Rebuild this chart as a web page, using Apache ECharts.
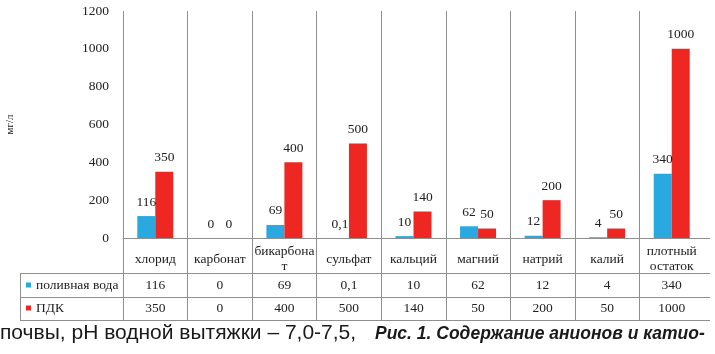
<!DOCTYPE html>
<html>
<head>
<meta charset="utf-8">
<script src="https://cdn.jsdelivr.net/npm/echarts@6/dist/echarts.min.js"></script>
<style>
html,body{margin:0;padding:0;background:#fff;}
#chart{width:715px;height:354px;}
</style>
</head>
<body>
<div id="chart"></div>
<script>
const categories = ['хлорид', 'карбонат', 'бикарбона\nт', 'сульфат', 'кальций', 'магний', 'натрий', 'калий', 'плотный\nостаток'];
const seriesNames = ['поливная вода', 'ПДК'];
const waterValues = [116, 0, 69, 0.1, 10, 62, 12, 4, 340];
const pdkValues = [350, 0, 400, 500, 140, 50, 200, 50, 1000];
const yMin = 0, yMax = 1200, yStep = 200;
const yName = 'мг/л';
const captionLeft = 'почвы, pH водной вытяжки – 7,0-7,5,';
const captionRight = 'Рис. 1. Содержание анионов и катио-';

const fmt = v => String(v).replace('.', ',');
const SERIF = '"Liberation Serif", "DejaVu Serif", serif';
const SANS = '"Liberation Sans", Arial, sans-serif';
const TXT = '#222';
const LINE = '#8f8f8f';
const FS = 13.5;

const chart = echarts.init(document.getElementById('chart'), null, {renderer: 'canvas'});

const hLine = (x1, y, x2) => ({type: 'line', z: 100, silent: true,
  shape: {x1: x1, y1: y + 0.5, x2: x2, y2: y + 0.5}, style: {stroke: LINE, lineWidth: 1}});

const option = {
  animation: false,
  backgroundColor: '#fff',
  textStyle: {fontFamily: SERIF},
  color: ['#29a9e0', '#ee2722'],
  legend: {
    data: seriesNames,
    orient: 'vertical',
    left: 26, top: 277, padding: 0,
    itemWidth: 5, itemHeight: 5, itemGap: 7,
    icon: 'rect',
    textStyle: {fontFamily: SERIF, fontSize: FS, color: TXT, lineHeight: 16},
    selectedMode: false
  },
  grid: [
    {left: 123, right: 11, top: 11, bottom: 116, outerBoundsMode: 'none', containLabel: false},
    {left: 123, right: 11, top: 238, bottom: 34, outerBoundsMode: 'none', containLabel: false}
  ],
  xAxis: [
    {
      type: 'category', gridIndex: 0, position: 'bottom', data: categories,
      axisLine: {show: true, lineStyle: {color: LINE}},
      axisTick: {show: false},
      axisLabel: {interval: 0, margin: 21, verticalAlign: 'middle', fontFamily: SERIF, fontSize: FS, lineHeight: 15, color: TXT},
      splitLine: {show: true, interval: 0, showMaxLine: false, lineStyle: {color: LINE}}
    },
    {
      type: 'category', gridIndex: 0, position: 'bottom', data: categories,
      axisLine: {show: false}, axisTick: {show: false}, splitLine: {show: false},
      axisLabel: {interval: 0, margin: 47, verticalAlign: 'middle', fontFamily: SERIF, fontSize: FS, color: TXT,
        formatter: (v, i) => fmt(waterValues[i])}
    },
    {
      type: 'category', gridIndex: 0, position: 'bottom', data: categories,
      axisLine: {show: false}, axisTick: {show: false}, splitLine: {show: false},
      axisLabel: {interval: 0, margin: 70, verticalAlign: 'middle', fontFamily: SERIF, fontSize: FS, color: TXT,
        formatter: (v, i) => fmt(pdkValues[i])}
    },
    {
      type: 'category', gridIndex: 1, position: 'bottom', data: categories,
      axisLine: {show: false}, axisTick: {show: false}, axisLabel: {show: false},
      splitLine: {show: true, interval: 0, showMaxLine: false, lineStyle: {color: LINE}}
    }
  ],
  yAxis: [
    {
      type: 'value', gridIndex: 0, min: yMin, max: yMax, interval: yStep,
      name: yName, nameLocation: 'middle', nameGap: 107, nameRotate: 90,
      nameTextStyle: {fontFamily: SERIF, fontSize: 11, color: TXT},
      axisLine: {show: false}, axisTick: {show: false}, splitLine: {show: false},
      axisLabel: {margin: 14, fontFamily: SERIF, fontSize: FS, color: TXT, formatter: v => String(v)}
    },
    {type: 'value', gridIndex: 1, show: false, min: 0, max: 1}
  ],
  series: [
    {
      name: seriesNames[0], type: 'bar', xAxisIndex: 0, yAxisIndex: 0, data: waterValues,
      barWidth: 18, barGap: '0%',
      label: {show: true, position: 'top', distance: 7, fontFamily: SERIF, fontSize: FS, color: TXT,
        formatter: p => fmt(p.value)}
    },
    {
      name: seriesNames[1], type: 'bar', xAxisIndex: 0, yAxisIndex: 0, data: pdkValues,
      barWidth: 18, barGap: '0%',
      label: {show: true, position: 'top', distance: 7, fontFamily: SERIF, fontSize: FS, color: TXT,
        formatter: p => fmt(p.value)}
    }
  ],
  graphic: [
    hLine(123, 238, 710),
    hLine(20, 273, 710),
    hLine(20, 297, 710),
    hLine(20, 320, 710),
    {type: 'line', z: 100, silent: true, shape: {x1: 20.5, y1: 273, x2: 20.5, y2: 321}, style: {stroke: LINE, lineWidth: 1}},
    {type: 'text', left: 0, top: 323, silent: true,
      style: {text: captionLeft, fontFamily: SANS, fontSize: 21, fill: '#1a1a1a'}},
    {type: 'text', left: 375, top: 325, silent: true,
      style: {text: captionRight, fontFamily: SANS, fontSize: 17.5, fontWeight: 'bold', fontStyle: 'italic', fill: '#1a1a1a'}}
  ]
};
chart.setOption(option);
</script>
</body>
</html>
